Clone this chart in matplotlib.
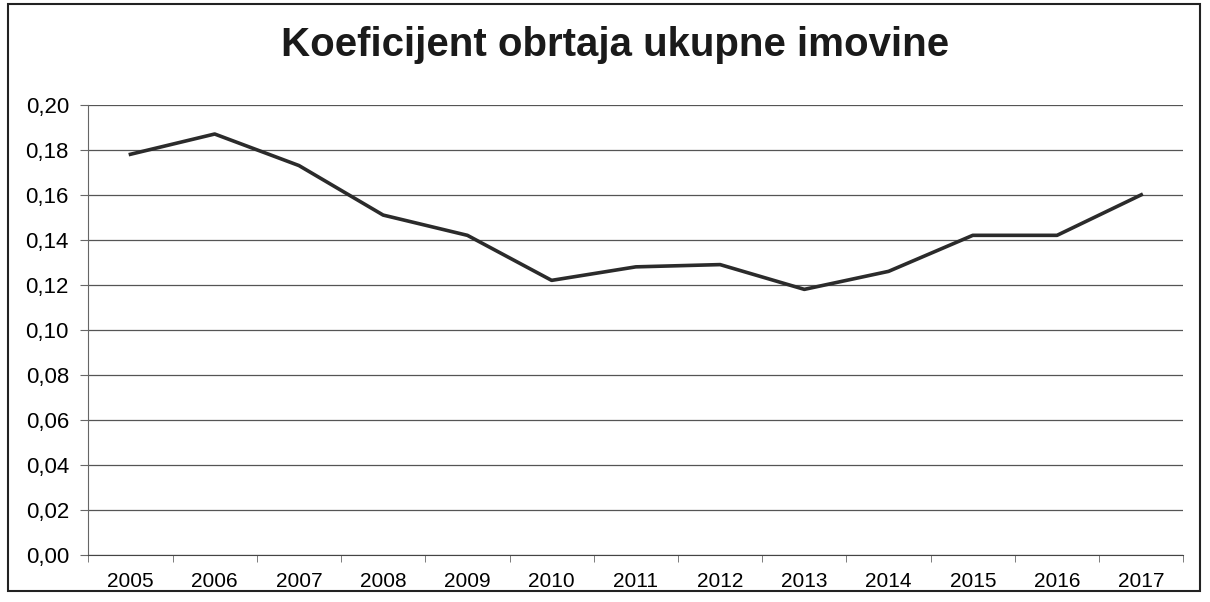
import matplotlib.pyplot as plt
import matplotlib as mpl
from matplotlib.patches import Rectangle
from matplotlib.ticker import FuncFormatter, MultipleLocator, FixedLocator
import numpy as np

mpl.rcParams['font.family'] = ['Liberation Sans', 'DejaVu Sans']

years = ['2005', '2006', '2007', '2008', '2009', '2010', '2011',
         '2012', '2013', '2014', '2015', '2016', '2017']
values = [0.178, 0.187, 0.173, 0.151, 0.142, 0.122, 0.128,
          0.129, 0.118, 0.126, 0.142, 0.142, 0.160]

fig = plt.figure(figsize=(12.1, 6.02), dpi=100)
ax = fig.add_axes([0.073, 0.078, 0.905, 0.748])

x = np.arange(len(years))
ax.plot(x, values, color='#2b2b2b', lw=2.6, solid_joinstyle='round')

ax.set_xlim(-0.5, len(years) - 0.5)
ax.set_ylim(0, 0.20)
ax.yaxis.set_major_locator(MultipleLocator(0.02))
ax.yaxis.set_major_formatter(FuncFormatter(lambda v, p: ('%.2f' % v).replace('.', ',')))
ax.grid(axis='y', color='#555555', lw=0.9)
ax.set_axisbelow(True)

ax.set_xticks(x)
ax.set_xticklabels(years)
ax.xaxis.set_minor_locator(FixedLocator(np.arange(-0.5, len(years), 1)))
ax.tick_params(axis='x', which='major', length=0, labelsize=15, pad=12)
ax.tick_params(axis='x', which='minor', length=5, color='#666666', direction='out')
ax.tick_params(axis='y', length=6, color='#666666', labelsize=16, pad=8)

for s in ['top', 'right']:
    ax.spines[s].set_visible(False)
ax.spines['left'].set_color('#666666')
ax.spines['bottom'].set_color('#444444')

fig.text(0.508, 0.925, 'Koeficijent obrtaja ukupne imovine', ha='center', va='center',
         fontsize=29, fontweight='bold', color='#1a1a1a')

fig.patches.append(Rectangle((0.007, 0.018), 0.985, 0.976, transform=fig.transFigure,
                             fill=False, edgecolor='#222222', lw=1.5))

fig.savefig('out.png', dpi=100)
